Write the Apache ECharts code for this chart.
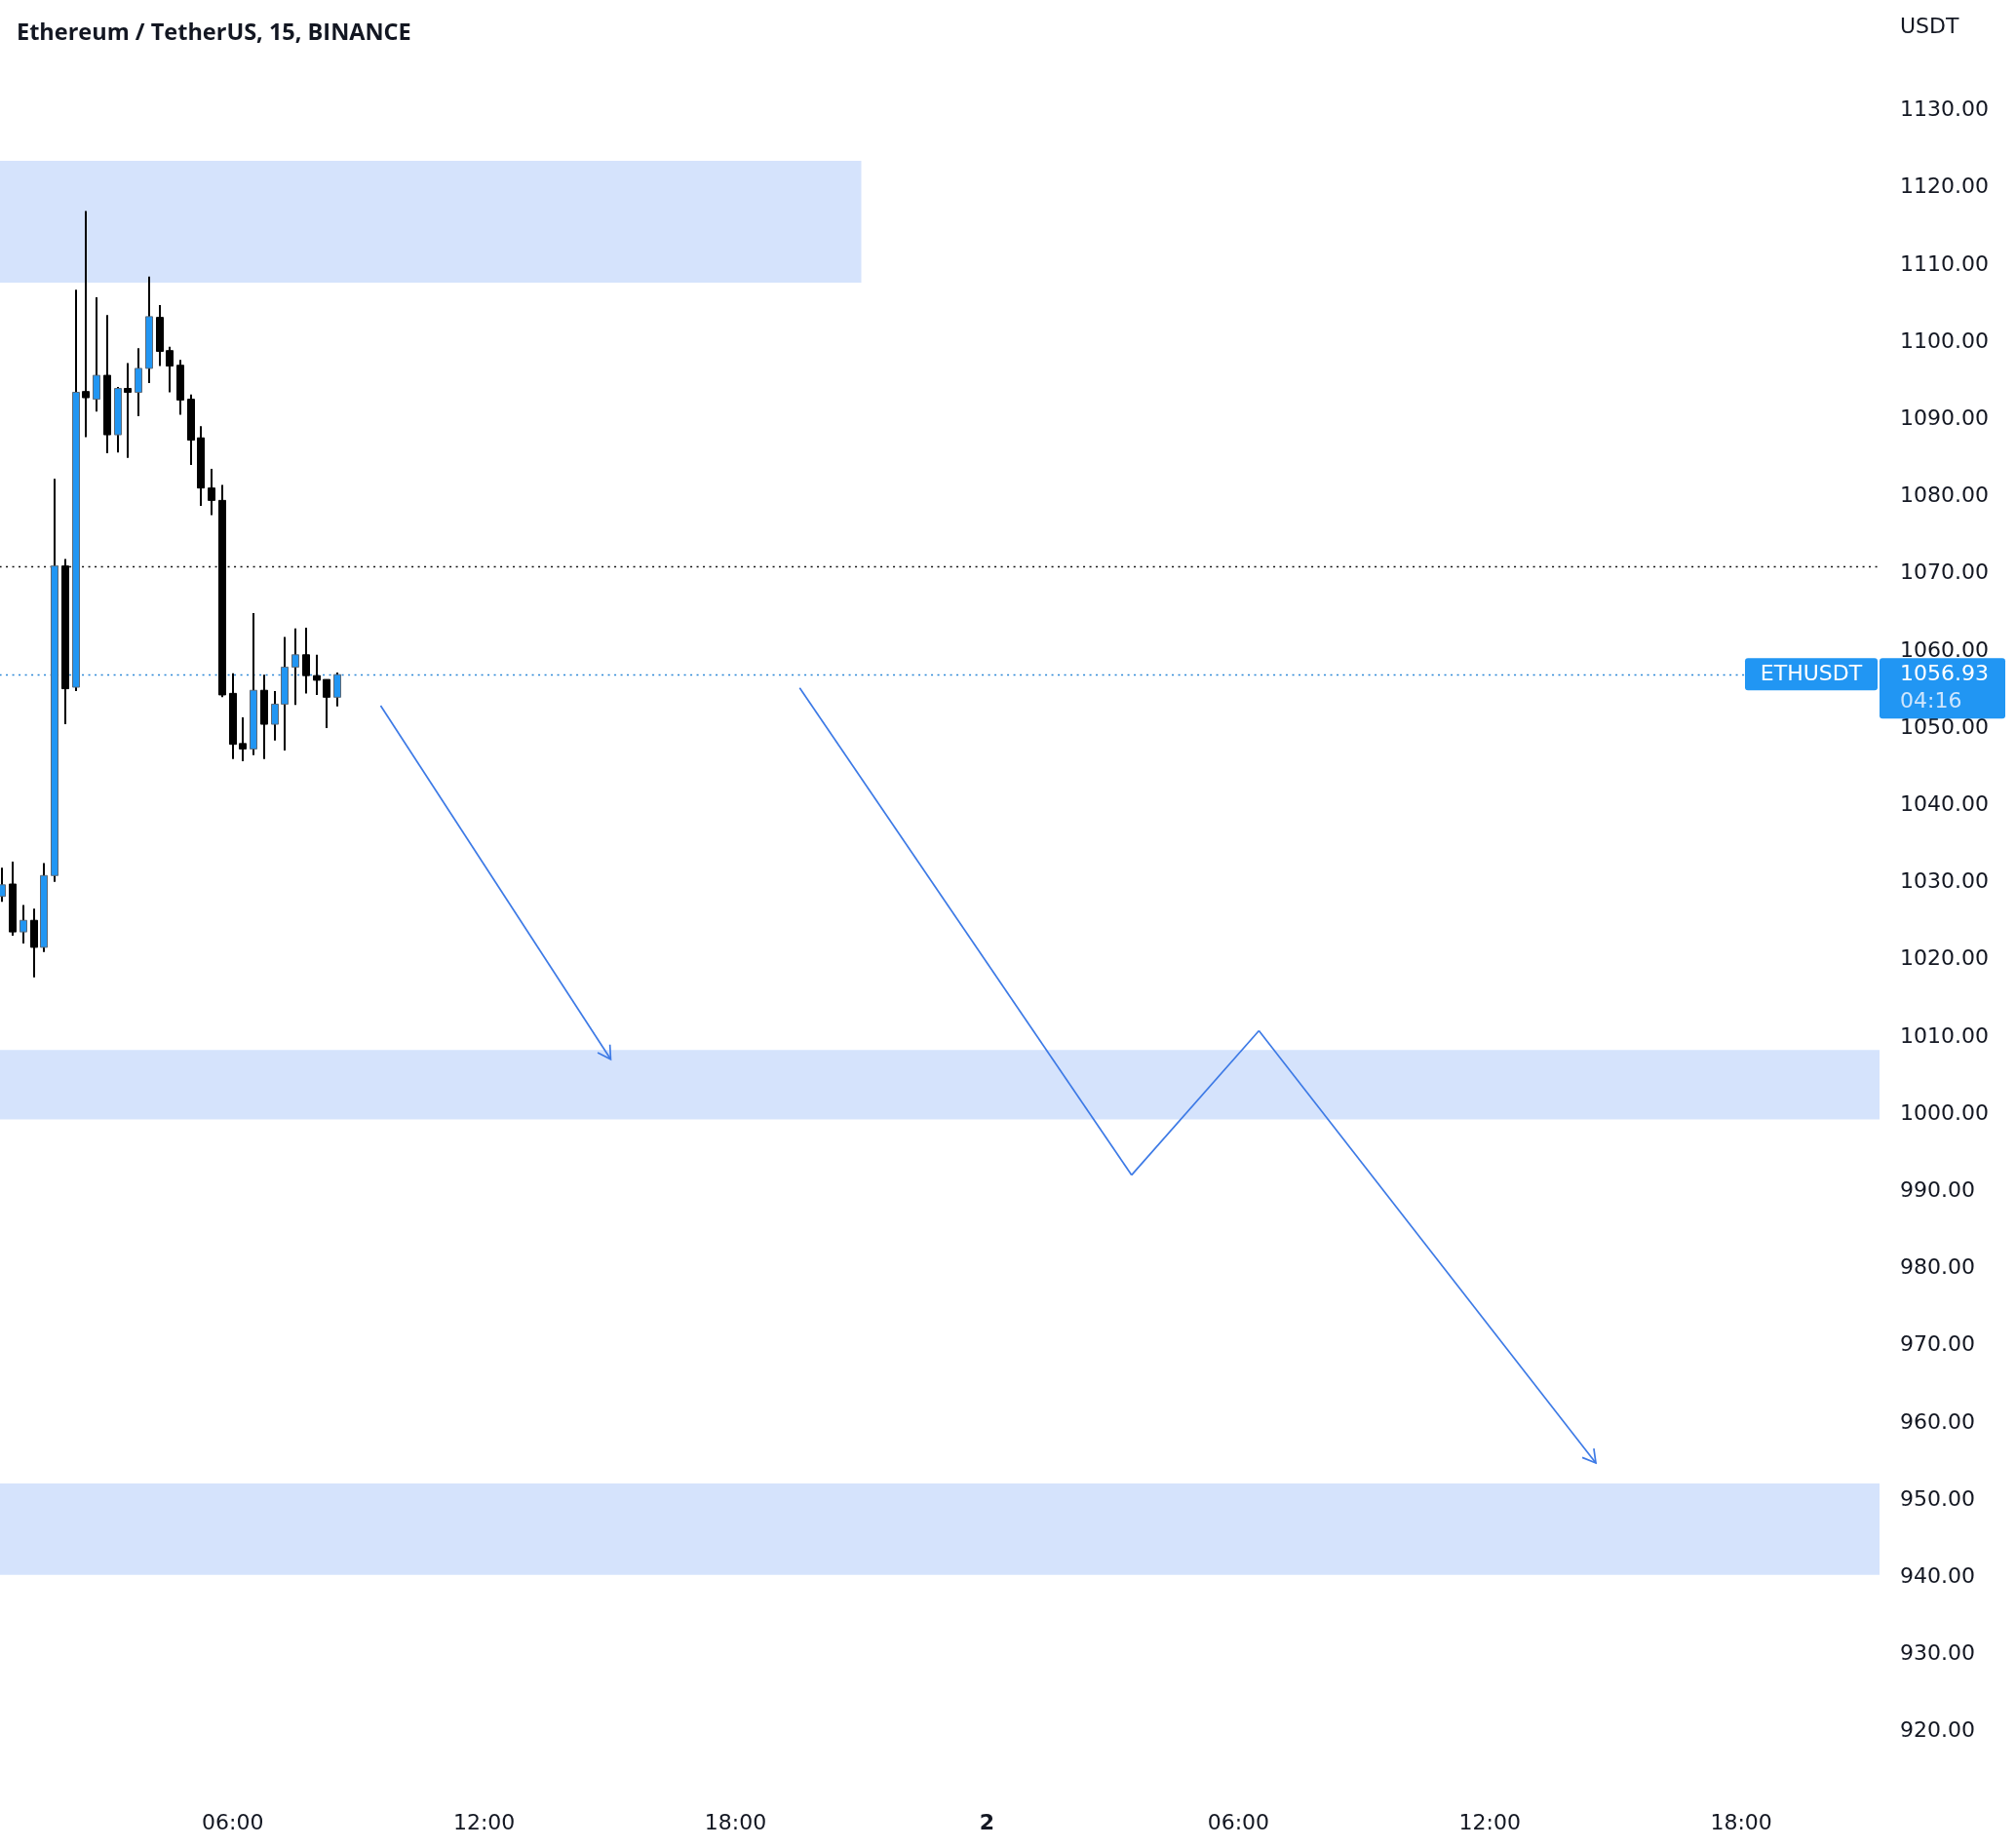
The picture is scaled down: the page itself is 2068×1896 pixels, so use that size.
<!DOCTYPE html>
<html>
<head>
<meta charset="utf-8">
<script src="https://cdn.jsdelivr.net/npm/echarts@6/dist/echarts.min.js"></script>
<style>
html,body{margin:0;padding:0;background:#fff;}
#chart{width:2068px;height:1896px;}
</style>
</head>
<body>
<div id="chart"></div>
<script>
// ---- data ----
const titleText = 'Ethereum / TetherUS, 15, BINANCE';
const symbolName = 'ETHUSDT';
const currencyLabel = 'USDT';
const countdownText = '04:16';

const candleTimes = ['00:30','00:45','01:00','01:15','01:30','01:45','02:00','02:15','02:30','02:45',
  '03:00','03:15','03:30','03:45','04:00','04:15','04:30','04:45','05:00','05:15',
  '05:30','05:45','06:00','06:15','06:30','06:45','07:00','07:15','07:30','07:45',
  '08:00','08:15','08:30'];
const openPrices  = [1028.2,1029.8,1023.6,1025.1,1021.6,1030.9,1071.0,1055.3,1093.6,1092.6,
  1095.7,1088.0,1094.0,1093.5,1096.6,1103.2,1098.9,1097.0,1092.6,1087.6,
  1081.1,1079.5,1054.5,1048.0,1047.3,1054.9,1050.5,1053.1,1057.9,1059.5,
  1056.8,1056.3,1054.0];
const closePrices = [1029.7,1023.6,1025.1,1021.6,1030.9,1071.0,1055.1,1093.5,1092.8,1095.7,
  1088.0,1094.0,1093.5,1096.6,1103.3,1098.8,1096.9,1092.5,1087.3,1081.1,
  1079.5,1054.3,1047.9,1047.3,1054.9,1050.5,1053.1,1057.9,1059.5,1056.8,
  1056.2,1054.0,1056.93];
const lowPrices   = [1027.5,1023.1,1022.1,1017.7,1021.0,1030.1,1050.5,1054.8,1087.7,1091.0,
  1085.6,1085.7,1085.0,1090.4,1094.7,1096.9,1093.5,1090.6,1084.1,1078.8,
  1077.6,1054.0,1046.0,1045.7,1046.5,1046.0,1048.4,1047.1,1053.0,1054.5,
  1054.3,1050.0,1052.8];
const highPrices  = [1031.9,1032.7,1027.1,1026.6,1032.5,1082.3,1071.9,1106.8,1117.0,1105.8,
  1103.5,1094.2,1097.3,1099.2,1108.5,1104.8,1099.4,1097.7,1093.2,1089.1,
  1083.6,1081.5,1057.1,1051.4,1064.9,1056.9,1054.8,1061.8,1062.9,1063.0,
  1059.5,1056.3,1057.2];

// zones: [start hour, end hour, low price, high price]  (hours counted from day-1 00:00)
const zoneStart = [-10, -10, -10];
const zoneEnd   = [21, 60, 60];
const zoneLow   = [1107.7, 999.3, 940.3];
const zoneHigh  = [1123.5, 1008.3, 952.15];

// horizontal dotted levels
const levelPrices = [1071.0];

// drawn paths (hours from day-1 00:00, prices)
const path1Hours  = [9.53, 15.02];
const path1Prices = [1052.9, 1007.1];
const path2Hours  = [19.53, 27.45, 30.49, 38.53];
const path2Prices = [1055.2, 992.1, 1010.8, 954.8];

// axis ticks
const xTickHours = [6, 12, 18, 24, 30, 36, 42];
const yTickPrices = [920,930,940,950,960,970,980,990,1000,1010,1020,1030,1040,1050,1060,1070,1080,1090,1100,1110,1120,1130];

const xMin = 0.446, xMax = 45.30;
const yMin = 912.25, yMax = 1144.32;

// ---- build ----
function toHours(s){ const p = s.split(':'); return (+p[0]) + (+p[1])/60; }
const candleData = candleTimes.map((t,i)=>[toHours(t), openPrices[i], closePrices[i], lowPrices[i], highPrices[i]]);
const zoneData = zoneStart.map((s,i)=>[s, zoneEnd[i], zoneLow[i], zoneHigh[i]]);
function segs(hs, ps){
  const out=[];
  for(let i=0;i<hs.length-1;i++) out.push([hs[i],ps[i],hs[i+1],ps[i+1], i===hs.length-2?1:0]);
  return out;
}
const pathData = segs(path1Hours, path1Prices).concat(segs(path2Hours, path2Prices));
const lastClose = closePrices[closePrices.length-1];

const UP = '#2196F3';
const LINE_BLUE = '#3d7ae6';
const TXT = '#131722';
const FONT = '"DejaVu Sans", sans-serif';
const FS = 22;

const chart = echarts.init(document.getElementById('chart'), null, {renderer:'canvas'});

const option = {
  backgroundColor:'#fff',
  animation:false,
  title:{
    text:titleText, left:12, top:17,
    textStyle:{fontFamily:'"Open Sans"', fontWeight:'bold', fontSize:23.5, color:TXT}
  },
  grid:{left:0, right:140, top:0, bottom:58, containLabel:false},
  xAxis:{
    type:'value', min:xMin, max:xMax,
    axisLine:{show:false}, axisTick:{show:false}, splitLine:{show:false},
    axisLabel:{
      customValues:xTickHours, margin:22, color:TXT, fontSize:FS, fontFamily:FONT,
      formatter:function(v){
        if (Math.abs(v%24) < 1e-6) return '{b|' + (Math.round(v/24)+1) + '}';
        const h = Math.round(v%24);
        return (h<10?'0':'') + h + ':00';
      },
      rich:{b:{fontWeight:'bold', fontSize:FS, fontFamily:FONT, color:TXT}}
    }
  },
  yAxis:{
    type:'value', position:'right', min:yMin, max:yMax, scale:true,
    axisLine:{show:false}, axisTick:{show:false}, splitLine:{show:false},
    axisLabel:{
      customValues:yTickPrices, margin:21, align:'left', color:TXT, fontSize:FS, fontFamily:FONT,
      formatter:function(v){ return v.toFixed(2); }
    }
  },
  series:[
    { // zones
      type:'custom', z:1, clip:true, silent:true,
      data:zoneData,
      renderItem:function(params, api){
        const p1 = api.coord([api.value(0), api.value(3)]);
        const p2 = api.coord([api.value(1), api.value(2)]);
        return {type:'rect', shape:{x:p1[0], y:p1[1], width:p2[0]-p1[0], height:p2[1]-p1[1]},
          style:{fill:'#d5e3fc'}};
      }
    },
    { // dotted level lines + current price line
      type:'custom', z:2, clip:true, silent:true,
      data:levelPrices.map(p=>[p,0]).concat([[lastClose,1]]),
      renderItem:function(params, api){
        const a = api.coord([xMin-5, api.value(0)]);
        const b = api.coord([xMax+5, api.value(0)]);
        const isLast = api.value(1) === 1;
        return {type:'line', shape:{x1:a[0], y1:Math.round(a[1])+0.5, x2:b[0], y2:Math.round(b[1])+0.5},
          style:{stroke:isLast?'#2a86d6':'#111', lineWidth:1.6, lineDash:[2,4.5]}};
      }
    },
    { // candles
      type:'custom', z:3, clip:true, silent:true,
      data:candleData,
      renderItem:function(params, api){
        const t = api.value(0), o = api.value(1), c = api.value(2), l = api.value(3), h = api.value(4);
        const pO = api.coord([t,o]), pC = api.coord([t,c]), pL = api.coord([t,l]), pH = api.coord([t,h]);
        const up = c >= o;
        const bw = 7;
        const x = Math.round(pO[0]);
        const top = Math.min(pO[1], pC[1]), bot = Math.max(pO[1], pC[1]);
        return {type:'group', children:[
          {type:'line', shape:{x1:x, y1:pH[1], x2:x, y2:pL[1]}, style:{stroke:'#000', lineWidth:2}},
          {type:'rect', shape:{x:x-bw/2, y:top, width:bw, height:Math.max(bot-top, 2)},
            style:{fill:up?UP:'#000', stroke:up?'#5d6a78':'#000', lineWidth:1}}
        ]};
      }
    },
    { // drawn arrows / paths
      type:'custom', z:4, clip:true, silent:true,
      data:pathData,
      renderItem:function(params, api){
        const p1 = api.coord([api.value(0), api.value(1)]);
        const p2 = api.coord([api.value(2), api.value(3)]);
        const children = [{type:'line', shape:{x1:p1[0], y1:p1[1], x2:p2[0], y2:p2[1]},
          style:{stroke:LINE_BLUE, lineWidth:1.7}}];
        if (api.value(4) === 1) {
          const dx = p2[0]-p1[0], dy = p2[1]-p1[1];
          const len = Math.sqrt(dx*dx+dy*dy);
          const ux = dx/len, uy = dy/len;
          const L = 15, ang = Math.PI/6;
          const arms = [ang, -ang].map(a=>{
            const rx = ux*Math.cos(a) - uy*Math.sin(a);
            const ry = ux*Math.sin(a) + uy*Math.cos(a);
            return [p2[0]-L*rx, p2[1]-L*ry];
          });
          children.push({type:'polyline', shape:{points:[arms[0], p2, arms[1]]},
            style:{stroke:LINE_BLUE, lineWidth:1.7, fill:null}});
        }
        return {type:'group', children:children};
      }
    }
  ]
};
chart.setOption(option);

// price labels on the right edge, placed with the library's y scale
const py = chart.convertToPixel({yAxisIndex:0}, lastClose);
const plotRight = chart.getWidth() - 140;
chart.setOption({
  graphic:[
    {type:'text', z:100, x:1949, y:28,
      style:{text:currencyLabel, fontFamily:FONT, fontSize:FS, fill:TXT, verticalAlign:'middle'}},
    {type:'rect', z:100, shape:{x:plotRight-138, y:py-17, width:136, height:33, r:3}, style:{fill:'#2196F3'}},
    {type:'text', z:101, x:plotRight-70, y:py, style:{text:symbolName, fontFamily:FONT, fontSize:FS, fill:'#fff', align:'center', verticalAlign:'middle'}},
    {type:'rect', z:100, shape:{x:plotRight, y:py-17, width:129, height:62, r:3}, style:{fill:'#2196F3'}},
    {type:'text', z:101, x:plotRight+21, y:py, style:{text:lastClose.toFixed(2), fontFamily:FONT, fontSize:FS, fill:'#fff', align:'left', verticalAlign:'middle'}},
    {type:'text', z:101, x:plotRight+21, y:py+28, style:{text:countdownText, fontFamily:FONT, fontSize:FS, fill:'#cfe6fd', align:'left', verticalAlign:'middle'}}
  ]
});
</script>
</body>
</html>
